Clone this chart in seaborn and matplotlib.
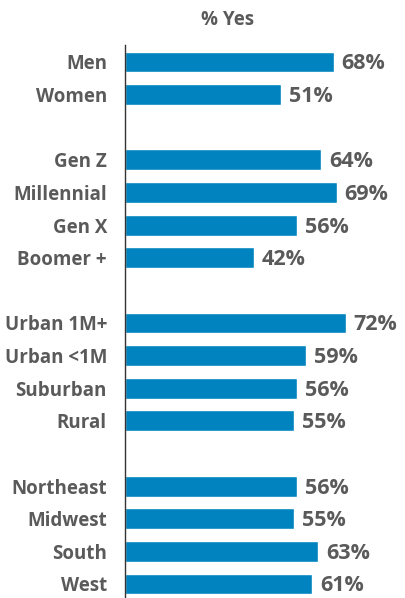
import pandas as pd
import matplotlib.pyplot as plt
import seaborn as sns

# groups of rows, blank row between groups
gender = ["Men", "Women"]
gender_pct = [68, 51]
generation = ["Gen Z", "Millennial", "Gen X", "Boomer +"]
generation_pct = [64, 69, 56, 42]
area = ["Urban 1M+", "Urban <1M", "Suburban", "Rural"]
area_pct = [72, 59, 56, 55]
region = ["Northeast", "Midwest", "South", "West"]
region_pct = [56, 55, 63, 61]

groups = [(gender, gender_pct), (generation, generation_pct),
          (area, area_pct), (region, region_pct)]

rows = []
order = []
for i, (labels, vals) in enumerate(groups):
    if i > 0:
        order.append(" " * i)  # spacer category
    for lab, v in zip(labels, vals):
        rows.append({"label": lab, "pct": v})
        order.append(lab)
df = pd.DataFrame(rows)

blue = "#0083be"
grey = "#5a5a5a"

sns.set_style("white")
plt.rcParams["font.family"] = ["Open Sans", "DejaVu Sans"]

fig = plt.figure(figsize=(4.06, 5.98), dpi=100)
ax = fig.add_axes([125 / 406, 0, 1 - 125 / 406, 1 - 45 / 598])

sns.barplot(data=df, x="pct", y="label", order=order, color=blue,
            width=0.64, saturation=1, ax=ax)

for _, r in df.iterrows():
    ax.text(r["pct"] + 2.6, order.index(r["label"]) + 0.06, f"{r['pct']}%",
            va="center", ha="left", fontsize=15.5, fontweight="bold", color=grey)

ax.set_xlim(0, 91.6)
ax.set_ylim(16.43, -0.52)
ax.set_xlabel("")
ax.set_ylabel("")
ax.set_xticks([])
ax.tick_params(axis="y", length=0, pad=13)
for t in ax.get_yticklabels():
    t.set_fontweight("bold")
    t.set_fontsize(13.5)
    t.set_color(grey)
for s in ["top", "right", "bottom"]:
    ax.spines[s].set_visible(False)
ax.spines["left"].set_color("#333333")
ax.spines["left"].set_linewidth(1)

fig.text(228 / 406, 1 - 20 / 598, "% Yes", ha="center", va="center",
         fontsize=13.5, fontweight="bold", color=grey)

fig.savefig("out.png", dpi=100)
